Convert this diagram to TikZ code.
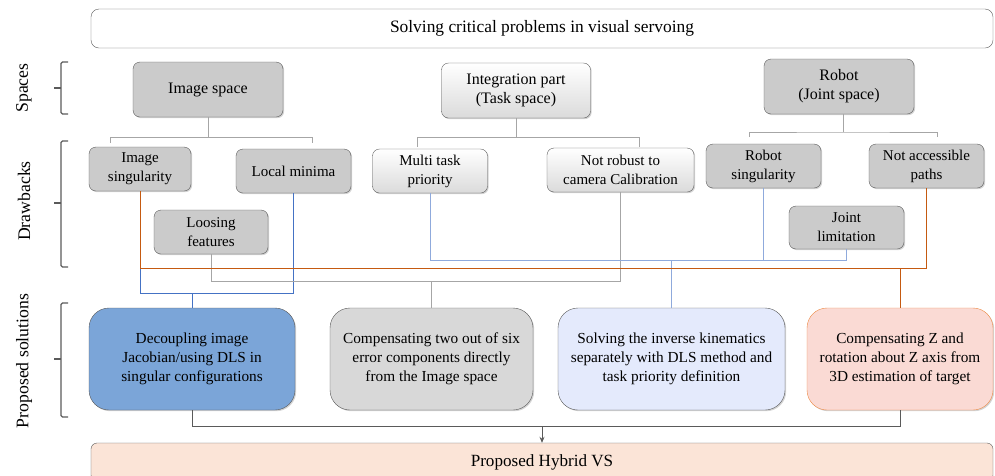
\documentclass[tikz,border=0pt]{standalone}
\usepackage{fontspec}
\setmainfont{Liberation Serif}
\usepackage{xcolor}
\usetikzlibrary{arrows.meta,shadows}
\definecolor{boxgray}{HTML}{CBCBCB}
\definecolor{edgegray}{HTML}{5A5A5A}
\definecolor{linegray}{HTML}{A6A6A6}
\definecolor{solblue}{HTML}{7BA5D8}
\definecolor{sollav}{HTML}{E4EAFC}
\definecolor{solpink}{HTML}{FADAD4}
\definecolor{solorange}{HTML}{ED8A45}
\definecolor{hybpeach}{HTML}{FBE4D7}
\definecolor{wireorange}{HTML}{C55A11}
\definecolor{wireblue}{HTML}{4472C4}
\definecolor{wirelight}{HTML}{8FAADC}

\begin{document}
\begin{tikzpicture}[x=1pt,y=-1pt,
  txt/.style={font=\fontsize{#1}{19}\selectfont,align=center},
  txt/.default=16,
  shd/.style={drop shadow={opacity=0.35,shadow xshift=1.2pt,shadow yshift=-1.2pt}},
  spacebox/.style={txt=16,shd,draw=edgegray,fill=boxgray,rounded corners=7pt,inner sep=0pt},
  darkbox/.style={txt=15,shd,draw=edgegray,fill=boxgray,rounded corners=7pt,inner sep=0pt},
  lightbox/.style={shd,draw=edgegray,top color=white,bottom color=boxgray!70,rounded corners=7pt,inner sep=0pt},
  solbox/.style={txt=15.3,shd,draw=edgegray,rounded corners=20pt,inner sep=0pt,minimum height=102pt},
  tree/.style={linegray,line width=0.8pt},
  brace/.style={edgegray,line width=1.3pt,rounded corners=1.5pt},
  side/.style={txt=17.7,rotate=90}]
\useasboundingbox (0,0) rectangle (995,475);

% header and footer
\node[txt=17.4,draw=edgegray,fill=white,rounded corners=8pt,minimum width=902pt,minimum height=39pt] (top) at (542,28.5) {Solving critical problems in visual servoing};
\node[txt=17.1,draw=edgegray,fill=hybpeach,rounded corners=6pt,minimum width=902pt,minimum height=38pt] (hybrid) at (542,462) {Proposed Hybrid VS};

% side labels and braces
\node[side] (lspace) at (24,88) {Spaces};
\node[side] (ldraw) at (24,201) {Drawbacks};
\node[side] (lsol) at (24,361) {Proposed solutions};
\foreach \ya/\yb/\ym in {62/114/88,141/267/203,303/417/359}{
  \draw[brace] (68,\ya) -- (61,\ya) -- (61,\yb) -- (68,\yb);
  \draw[brace] (61,\ym) -- (54,\ym);}

% spaces
\node[spacebox,minimum width=150pt,minimum height=55pt] (imgsp) at (208,89.5) {Image space};
\node[lightbox,txt=16,minimum width=149pt,minimum height=55pt] (integ) at (516,90.5) {Integration part\\(Task space)};
\node[spacebox,minimum width=150pt,minimum height=55pt] (robot) at (839,86.5) {Robot\\(Joint space)};

% drawbacks
\node[darkbox,minimum width=102pt,minimum height=44pt] (imgsing) at (140,169) {Image\\singularity};
\node[darkbox,minimum width=115pt,minimum height=44pt] (locmin) at (293.5,171) {Local minima};
\node[darkbox,minimum width=114pt,minimum height=44pt] (loosing) at (211,232) {Loosing\\features};
\node[lightbox,txt=15,minimum width=115pt,minimum height=44pt] (multi) at (430,171) {Multi task\\priority};
\node[lightbox,txt=15,minimum width=147pt,minimum height=44pt] (notrob) at (620.5,170) {Not robust to\\camera Calibration};
\node[darkbox,minimum width=115pt,minimum height=44pt] (robsing) at (763.5,166) {Robot\\singularity};
\node[darkbox,minimum width=115pt,minimum height=44pt] (notacc) at (926.5,166) {Not accessible\\paths};
\node[darkbox,minimum width=115pt,minimum height=43pt] (joint) at (846.5,227.5) {Joint\\limitation};

% solutions
\node[solbox,fill=solblue,minimum width=206pt] (sol1) at (192,359) {Decoupling image\\Jacobian/using DLS in\\singular configurations};
\node[solbox,fill=boxgray!75,minimum width=203pt] (sol2) at (431.5,359) {Compensating two out of six\\error components directly\\from the Image space};
\node[solbox,fill=sollav,minimum width=227pt] (sol3) at (671.5,359) {Solving the inverse kinematics\\separately with DLS method and\\task priority definition};
\node[solbox,fill=solpink,draw=solorange,minimum width=186pt] (sol4) at (900,359) {Compensating Z and\\rotation about Z axis from\\3D estimation of target};

% hierarchy lines
\draw[tree] (imgsp.south) -- ++(0,20) coordinate (t1);
\draw[tree] (110,143) |- (t1) -| (312,143);
\draw[tree] (integ.south) -- ++(0,19) coordinate (t2);
\draw[tree] (417,147) |- (t2) -| (639,147);
\draw[tree] (robot.south |- 0,114) ++(4,0) coordinate (t3a) -- ++(0,18) coordinate (t3);
\draw[tree] (749,137) |- (t3) -| (937,137);

% links from drawbacks to solutions
\draw[wireblue,line width=0.9pt] (imgsing.south) -- ++(0,102) coordinate (b1) -| (locmin.south);
\draw[wireblue,line width=0.9pt] (sol1.north) -- (sol1.north |- b1);
\draw[linegray,line width=0.9pt] (loosing.south) -- ++(0,27) coordinate (g1) -| (notrob.south);
\draw[linegray,line width=0.9pt] (sol2.north) -- (sol2.north |- g1);
\draw[wirelight,line width=0.9pt] (multi.south) -- ++(0,67) coordinate (l1) -| (robsing.south);
\draw[wirelight,line width=0.9pt] (joint.south) -- ++(0,11) coordinate (l2) -| (sol3.north);
\draw[wireorange,line width=0.9pt] (imgsing.south) -- ++(0,77) coordinate (o1) -| (notacc.south);
\draw[wireorange,line width=0.9pt] (sol4.north) -- (sol4.north |- o1);

% to hybrid
\draw[edgegray,line width=0.9pt] (sol1.south) -- ++(0,16) coordinate (k1) -| (sol4.south);
\draw[edgegray,line width=0.9pt,-{Stealth[length=6pt,width=5pt]}] (hybrid.north |- k1) -- (hybrid.north);
\end{tikzpicture}
\end{document}
